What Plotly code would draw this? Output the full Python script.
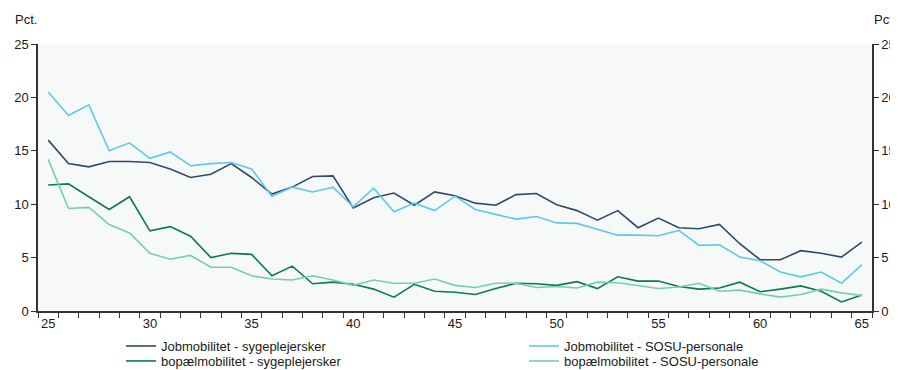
import plotly.graph_objects as go

ages = list(range(25, 66))

job_syg = [16.0, 13.8, 13.5, 14.0, 14.0, 13.9, 13.3, 12.5, 12.8, 13.8, 12.5,
           10.95, 11.6, 12.6, 12.65, 9.65, 10.6, 11.05, 9.9, 11.15, 10.8,
           10.1, 9.9, 10.9, 11.0, 9.95, 9.4, 8.5, 9.4, 7.8, 8.7,
           7.8, 7.7, 8.1, 6.3, 4.8, 4.8, 5.65, 5.4, 5.05, 6.45]
job_sosu = [20.5, 18.3, 19.3, 15.0, 15.75, 14.3, 14.9, 13.6, 13.8, 13.9, 13.3,
            10.75, 11.6, 11.15, 11.6, 9.75, 11.5, 9.3, 10.1, 9.4, 10.75,
            9.5, 9.05, 8.6, 8.85, 8.25, 8.2, 7.65, 7.1, 7.1, 7.05,
            7.55, 6.15, 6.2, 5.05, 4.7, 3.65, 3.2, 3.65, 2.6, 4.35]
bop_syg = [11.8, 11.9, 10.7, 9.5, 10.7, 7.5, 7.9, 7.0, 5.0, 5.4, 5.3,
           3.3, 4.2, 2.55, 2.7, 2.5, 2.05, 1.3, 2.5, 1.85, 1.75,
           1.55, 2.1, 2.6, 2.55, 2.4, 2.75, 2.1, 3.2, 2.8, 2.8,
           2.3, 2.05, 2.15, 2.7, 1.8, 2.05, 2.35, 1.85, 0.85, 1.5]
bop_sosu = [14.2, 9.6, 9.7, 8.1, 7.3, 5.4, 4.85, 5.2, 4.1, 4.1, 3.3,
            3.0, 2.9, 3.3, 2.9, 2.4, 2.9, 2.6, 2.6, 3.0, 2.4,
            2.2, 2.6, 2.6, 2.2, 2.3, 2.15, 2.7, 2.65, 2.4, 2.1,
            2.25, 2.6, 1.85, 1.95, 1.6, 1.3, 1.55, 2.05, 1.7, 1.45]

names = ["Jobmobilitet - sygeplejersker", "Jobmobilitet - SOSU-personale",
         "bopælmobilitet - sygeplejersker", "bopælmobilitet - SOSU-personale"]
series = [job_syg, job_sosu, bop_syg, bop_sosu]
colors = ["#2e4a6a", "#5cc9ea", "#0a785a", "#74cfae"]
legends = ["legend", "legend2", "legend3", "legend4"]

y_ticks = [0, 5, 10, 15, 20, 25]
x_ticks = [25, 30, 35, 40, 45, 50, 55, 60, 65]

# page has an 8px body margin; size the figure so the plot lands where the reference has it
OFF = 8
W, H = 898 - OFF, 370 - OFF

fig = go.Figure()
for name, vals, col, lg in zip(names, series, colors, legends):
    fig.add_trace(go.Scatter(x=ages, y=vals, name=name, mode="lines", legend=lg,
                             line=dict(color=col, width=1.6)))
# invisible trace for right axis
fig.add_trace(go.Scatter(x=[ages[0]], y=[0], yaxis="y2", showlegend=False,
                         mode="markers", marker=dict(opacity=0), hoverinfo="skip"))

font = dict(family="Liberation Sans, Arial, sans-serif", size=13, color="#1a1a1a")
axcol = "#333333"


def leg(px_left, px_top):
    return dict(orientation="v", xanchor="left", yanchor="top",
                xref="container", yref="container",
                x=(px_left - OFF) / W, y=1 - (px_top - OFF) / H,
                font=font, bgcolor="rgba(0,0,0,0)", itemwidth=30, borderwidth=0)


fig.update_layout(
    width=W, height=H,
    margin=dict(l=38 - OFF, r=26, t=44 - OFF, b=59, autoexpand=False),
    paper_bgcolor="white",
    plot_bgcolor="#f7f9f9",
    font=font,
    xaxis=dict(range=[24.5, 65.5], tickvals=x_ticks, ticks="", showgrid=False,
               zeroline=False, showline=True, linecolor=axcol, linewidth=1.5,
               tickfont=font,
               minor=dict(tickvals=[a - 0.5 for a in ages] + [65.5], ticks="outside",
                          ticklen=5, tickcolor=axcol, tickwidth=1.2, showgrid=False)),
    yaxis=dict(range=[0, 25], tickvals=y_ticks, ticks="outside", ticklen=5,
               tickcolor=axcol, tickwidth=1.2, showgrid=False, zeroline=False,
               showline=True, linecolor=axcol, linewidth=1.5, tickfont=font),
    yaxis2=dict(range=[0, 25], tickvals=y_ticks, ticks="outside", ticklen=5,
                tickcolor=axcol, tickwidth=1.2, showgrid=False, zeroline=False,
                showline=True, linecolor=axcol, linewidth=1.5, tickfont=font,
                overlaying="y", side="right"),
    legend=leg(121, 331),
    legend2=leg(524, 331),
    legend3=leg(121, 346),
    legend4=leg(524, 346),
    annotations=[
        dict(text="Pct.", xref="paper", yref="paper", x=-0.03, y=1.0, yshift=15,
             xanchor="left", yanchor="bottom", showarrow=False, font=font),
        dict(text="Pct.", xref="paper", yref="paper", x=1.0, y=1.0, yshift=15,
             xanchor="left", yanchor="bottom", showarrow=False, font=font),
    ],
    showlegend=True,
)

fig.write_html("out.html")
